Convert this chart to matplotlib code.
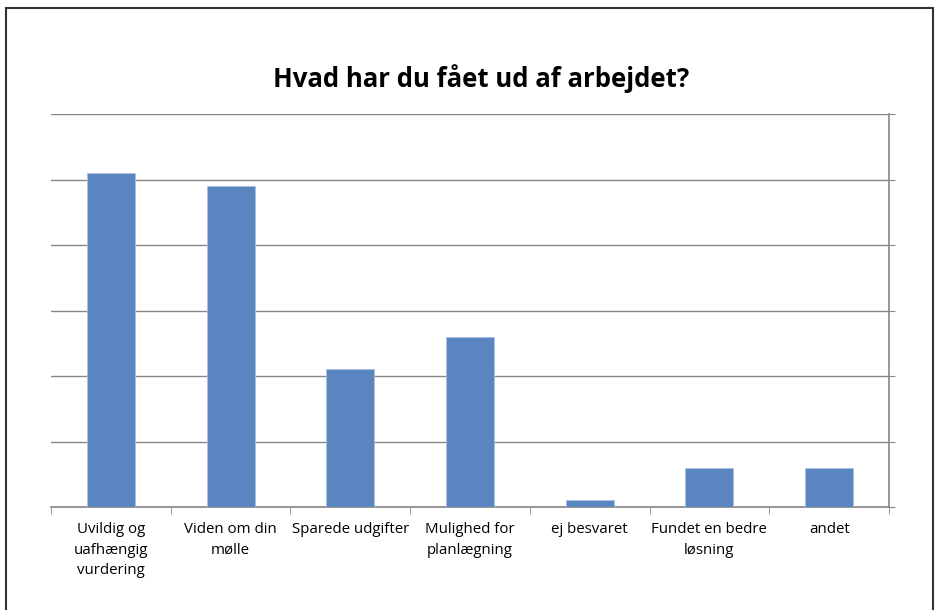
import numpy as np
import matplotlib.pyplot as plt
from matplotlib.patches import Rectangle

categories = ["Uvildig og\nuafhængig\nvurdering", "Viden om din\nmølle", "Sparede udgifter",
              "Mulighed for\nplanlægning", "ej besvaret", "Fundet en bedre\nløsning", "andet"]
values = [51, 49, 21, 26, 1, 6, 6]

plt.rcParams['font.family'] = ['Open Sans', 'DejaVu Sans']

fig = plt.figure(figsize=(9.39, 6.10), dpi=100)
ax = fig.add_axes([51/939, 1 - 507/610, (889 - 51)/939, (507 - 114)/610])

x = np.arange(len(values))
ax.bar(x, values, width=0.4, color='#5b85c0', edgecolor='#a9c0e0', linewidth=0.6, zorder=3)

ax.set_xlim(-0.5, len(values) - 0.5)
ax.set_ylim(0, 60)
ax.set_yticks(np.arange(0, 61, 10))
ax.yaxis.tick_right()
ax.tick_params(axis='y', which='both', length=4, color='#868686', labelright=False, direction='out')
ax.grid(axis='y', color='#868686', linewidth=1, zorder=0)

ax.set_xticks(x)
ax.set_xticklabels(categories, fontsize=10.8, linespacing=1.5)
ax.tick_params(axis='x', which='major', length=0, pad=11)
ax.set_xticks(np.arange(-0.5, len(values), 1), minor=True)
ax.tick_params(axis='x', which='minor', length=5, color='#868686', direction='out')

for side in ['top', 'left']:
    ax.spines[side].set_visible(False)
for side in ['right', 'bottom']:
    ax.spines[side].set_color('#868686')
    ax.spines[side].set_linewidth(1.2)

fig.text(481/939, 1 - 79/610, "Hvad har du fået ud af arbejdet?", ha='center', va='center',
         fontsize=18.5, fontweight='bold')

# outer chart frame
fig.patches.append(Rectangle((6/939, -0.05), (933 - 6)/939, 1.05 - 8/610,
                             transform=fig.transFigure, fill=False,
                             edgecolor='#333333', linewidth=1.5))

fig.savefig("out.png", dpi=100)
